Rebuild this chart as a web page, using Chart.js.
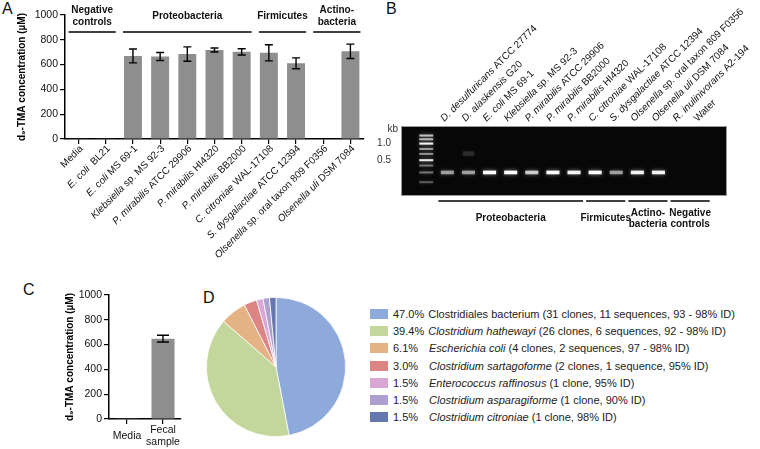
<!DOCTYPE html>
<html><head><meta charset="utf-8">
<script src="https://cdn.jsdelivr.net/npm/chart.js@4.4.1/dist/chart.umd.min.js"></script>
<style>
body{margin:0;background:#fff;width:760px;height:449px;overflow:hidden;position:relative;font-family:"Liberation Sans",Arial,sans-serif;}
.panel{position:absolute;}
.tag{position:absolute;font-size:16px;line-height:16px;color:#111;}
#legD{position:absolute;left:370px;top:306px;font-size:11px;color:#222;}
.row{height:17.2px;line-height:17.2px;white-space:nowrap;}
.sw{display:inline-block;width:18px;height:10px;vertical-align:middle;margin-right:5px;position:relative;top:-1px}
.pct{display:inline-block;}
</style></head><body>
<div class="tag" style="left:2px;top:1px">A</div>
<div class="tag" style="left:386px;top:1px">B</div>
<div class="tag" style="left:23px;top:282px">C</div>
<div class="tag" style="left:203px;top:290px">D</div>
<div class="panel" style="left:0;top:0;width:372px;height:270px"><canvas id="chartA"></canvas></div>
<div class="panel" style="left:360px;top:0;width:400px;height:235px"><canvas id="chartB"></canvas></div>
<div class="panel" style="left:0;top:270px;width:200px;height:179px"><canvas id="chartC"></canvas></div>
<div class="panel" style="left:206px;top:297px;width:140px;height:140px"><canvas id="chartD"></canvas></div>
<div id="legD"></div>
<script>
/* panel A — d9-TMA produced by isolates */
const labelsA = ['Media', '<i>E. coli</i>  BL21', '<i>E. coli</i> MS 69-1', '<i>Klebsiella</i> sp. MS 92-3',
  '<i>P. mirabilis</i> ATCC 29906', '<i>P. mirabilis</i> HI4320', '<i>P. mirabilis</i> BB2000',
  '<i>C. citroniae</i> WAL-17108', '<i>S. dysgalactiae</i> ATCC 12394',
  '<i>Olsenella</i> sp. oral taxon 809 F0356', '<i>Olsenella uli</i> DSM 7084'];
const valuesA = [4, 6, 670, 665, 685, 718, 703, 695, 610, 0, 707];
const errA = [0, 0, 56, 32, 58, 16, 25, 65, 44, 0, 58];
const groupNamesA = [['Negative', 'controls'], ['Proteobacteria'], ['Firmicutes'], ['Actino-', 'bacteria']];
const groupSpanA = [[0, 1], [2, 6], [7, 8], [9, 10]];

/* panel B — PCR gel */
const laneLabels = ['', '<i>D. desulfuricans</i> ATCC 27774', '<i>D. alaskensis</i> G20', '<i>E. coli</i> MS 69-1',
  '<i>Klebsiella</i> sp. MS 92-3', '<i>P. mirabilis</i> ATCC 29906', '<i>P. mirabilis</i> BB2000',
  '<i>P. mirabilis</i> HI4320', '<i>C. citroniae</i> WAL-17108', '<i>S. dysgalactiae</i> ATCC 12394',
  '<i>Olsenella</i> sp. oral taxon 809 F0356', '<i>Olsenella uli</i> DSM 7084', '<i>R. inulinivorans</i> A2-194', 'Water'];
const ladderKb = [1.4, 1.2, 1.0, 0.8, 0.65, 0.5, 0.4, 0.3, 0.2];
const ladderGlow = [0.7, 0.65, 0.95, 0.55, 0.5, 0.9, 0.4, 0.4, 0.3];
const bandKb = [null, 0.3, 0.3, 0.3, 0.3, 0.3, 0.3, 0.3, 0.3, 0.3, 0.3, 0.3, null, null];
const bandGlow = [0, 0.55, 0.55, 1, 1, 0.75, 1, 0.95, 1, 0.55, 0.95, 0.95, 0, 0];
const faintKb = [null, null, 0.66];
const faintGlow = [0, 0, 0.12];
const gelTicks = [1.0, 0.5];
const groupNamesB = [['Proteobacteria'], ['Firmicutes'], ['Actino-', 'bacteria'], ['Negative', 'controls']];
const groupSpanB = [[1, 7], [8, 9], [10, 11], [12, 13]];

/* panel C — fecal sample */
const labelsC = [['Media'], ['Fecal', 'sample']];
const valuesC = [3, 648];
const errC = [0, 27];

/* panel D — clone library */
const piePct = [47.0, 39.4, 6.1, 3.0, 1.5, 1.5, 1.5];
const pieNames = ['Clostridiales bacterium', 'Clostridium hathewayi', 'Escherichia coli', 'Clostridium sartagoforme',
  'Enterococcus raffinosus', 'Clostridium asparagiforme', 'Clostridium citroniae'];
const pieItalic = [false, true, true, true, true, true, true];
const pieDetails = ['(31 clones, 11 sequences, 93 - 98% ID)', '(26 clones, 6 sequences, 92 - 98% ID)',
  '(4 clones, 2 sequences, 97 - 98% ID)', '(2 clones, 1 sequence, 95% ID)', '(1 clone, 95% ID)',
  '(1 clone, 90% ID)', '(1 clone, 98% ID)'];
const pieColors = ['#8eaadb', '#c3d69b', '#e3b383', '#dd8585', '#d9a6d6', '#ada0d0', '#6677b0'];

const FONT = '"Liberation Sans", Arial, "DejaVu Sans", sans-serif';
const BAR = '#8e8e8e';

function drawRich(ctx, str, x, y, size, bold, align) {
  const segs = [];
  let ital = false;
  str.split(/(<i>|<\/i>)/).forEach(p => {
    if (p === '<i>') ital = true; else if (p === '</i>') ital = false; else if (p) segs.push([p, ital]);
  });
  const f = it => `${it ? 'italic ' : ''}${bold ? 'bold ' : ''}${size}px ${FONT}`;
  let w = 0;
  segs.forEach(s => { ctx.font = f(s[1]); w += ctx.measureText(s[0]).width; });
  let cx = align === 'right' ? x - w : align === 'center' ? x - w / 2 : x;
  ctx.textAlign = 'left';
  segs.forEach(s => { ctx.font = f(s[1]); ctx.fillText(s[0], cx, y); cx += ctx.measureText(s[0]).width; });
}

function drawGroups(ctx, x, names, spans, lineY, pad, textY) {
  ctx.save();
  ctx.strokeStyle = '#000'; ctx.lineWidth = 1.6; ctx.fillStyle = '#111';
  ctx.textBaseline = 'middle';
  names.forEach((nm, g) => {
    const a = x.getPixelForValue(spans[g][0]) - pad, b = x.getPixelForValue(spans[g][1]) + pad;
    ctx.beginPath(); ctx.moveTo(a, lineY); ctx.lineTo(b, lineY); ctx.stroke();
    const c = (a + b) / 2;
    nm.forEach((t, k) => drawRich(ctx, t, c, textY(nm.length, k), 10, true, 'center'));
  });
  ctx.restore();
}

function errorBars(chart, vals, errs, cap) {
  const {ctx, scales: {x, y}} = chart;
  ctx.save();
  ctx.strokeStyle = '#000'; ctx.lineWidth = 1.4;
  vals.forEach((v, i) => {
    const e = errs[i]; if (!e) return;
    const px = x.getPixelForValue(i), t = y.getPixelForValue(v + e), b = y.getPixelForValue(v - e);
    ctx.beginPath();
    ctx.moveTo(px, t); ctx.lineTo(px, b);
    ctx.moveTo(px - cap, t); ctx.lineTo(px + cap, t);
    ctx.moveTo(px - cap, b); ctx.lineTo(px + cap, b);
    ctx.stroke();
  });
  ctx.restore();
}

const yTitle = (pad) => ({ display: true, text: 'd₉-TMA concentration (µM)', color: '#000',
  font: { family: FONT, size: 10, weight: 'bold' }, padding: { top: pad, bottom: 0 } });
const axisY = (w, pad) => ({
  min: 0, max: 1000, afterFit: s => { s.width = w; },
  ticks: { stepSize: 200, color: '#111', padding: 2, font: { family: FONT, size: 10.5 }, callback: v => String(v) },
  grid: { drawOnChartArea: false, color: '#000', tickLength: 5, lineWidth: 1.2 },
  border: { color: '#000', width: 1.5 },
  title: yTitle(pad)
});

new Chart(document.getElementById('chartA'), {
  type: 'bar',
  data: { labels: labelsA, datasets: [{ data: valuesA, backgroundColor: BAR, barPercentage: 0.66, categoryPercentage: 1 }] },
  options: {
    responsive: true, maintainAspectRatio: false, animation: false,
    layout: { padding: { left: 0, top: 15, right: 8, bottom: 0 } },
    plugins: { legend: { display: false }, tooltip: { enabled: false } },
    scales: {
      x: { afterFit: s => { s.height = 131; }, ticks: { display: false },
        grid: { offset: false, drawOnChartArea: false, color: '#000', tickLength: 5, lineWidth: 1.2 },
        border: { color: '#000', width: 1.5 } },
      y: axisY(65, 16)
    }
  },
  plugins: [{
    id: 'annA',
    afterDraw(chart) {
      const {ctx, scales: {x, y}} = chart;
      errorBars(chart, valuesA, errA, 4);
      ctx.save();
      ctx.fillStyle = '#111'; ctx.textBaseline = 'middle';
      labelsA.forEach((t, i) => {
        ctx.save();
        ctx.translate(x.getPixelForValue(i) + 3, y.bottom + 8);
        ctx.rotate(-Math.PI / 4);
        drawRich(ctx, t, 0, 0, 10, false, 'right');
        ctx.restore();
      });
      ctx.restore();
      const lineY = y.top + 17;
      drawGroups(ctx, x, groupNamesA, groupSpanA, lineY, 10,
        (n, k) => n === 1 ? lineY - 16 : lineY - 22 + k * 12);
    }
  }]
});

/* gel as floating bars on a log kb axis */
const band = (kb, h) => [kb / h, kb * h];
new Chart(document.getElementById('chartB'), {
  type: 'bar',
  data: {
    datasets: [
      { data: ladderKb.map(k => ({ x: 0, y: band(k, 1.045) })), glow: ladderGlow, barPercentage: 0.66, categoryPercentage: 1 },
      { data: bandKb.map((k, i) => k ? { x: i, y: band(k, 1.08) } : null).filter(Boolean),
        glow: bandGlow.filter((g, i) => bandKb[i]), barPercentage: 0.62, categoryPercentage: 1 },
      { data: faintKb.map((k, i) => k ? { x: i, y: band(k, 1.1) } : null).filter(Boolean),
        glow: faintGlow.filter((g, i) => faintKb[i]), barPercentage: 0.55, categoryPercentage: 1 }
    ].map(d => Object.assign(d, {
      grouped: false,
      backgroundColor: c => `rgba(255,255,255,${c.dataset.glow[c.dataIndex]})`
    }))
  },
  options: {
    responsive: true, maintainAspectRatio: false, animation: false,
    layout: { padding: { left: 0, top: 127, right: 34, bottom: 0 } },
    plugins: { legend: { display: false }, tooltip: { enabled: false } },
    scales: {
      x: { type: 'linear', min: -0.6, max: 13.65, afterFit: s => { s.height = 40; },
        ticks: { display: false, stepSize: 1 }, grid: { display: false }, border: { display: false } },
      y: { type: 'logarithmic', min: 0.117, max: 2.0, afterFit: s => { s.width = 42; },
        afterBuildTicks: s => { s.ticks = gelTicks.map(v => ({ value: v })); },
        ticks: { color: '#333', padding: 3, font: { family: FONT, size: 10 }, callback: v => Number(v).toFixed(1) },
        grid: { display: false }, border: { display: false } }
    }
  },
  plugins: [{
    id: 'gel',
    beforeDatasetsDraw(chart) {
      const {ctx, chartArea: a} = chart;
      ctx.save();
      ctx.fillStyle = '#070707';
      ctx.fillRect(a.left, a.top, a.width, a.height);
      ctx.strokeStyle = '#9a9a9a'; ctx.lineWidth = 1;
      ctx.strokeRect(a.left - 0.5, a.top - 0.5, a.width + 1, a.height + 1);
      ctx.shadowColor = 'rgba(255,255,255,0.5)';
      ctx.shadowBlur = 4;
    },
    afterDatasetsDraw(chart) {
      const {ctx, chartArea: a, scales: {x}} = chart;
      ctx.restore();
      ctx.save();
      ctx.fillStyle = '#333'; ctx.textBaseline = 'middle';
      ctx.font = `10px ${FONT}`; ctx.textAlign = 'right';
      ctx.fillText('kb', a.left - 4, a.top + 2);
      ctx.fillStyle = '#111'; ctx.textBaseline = 'alphabetic';
      laneLabels.forEach((t, i) => {
        if (!t) return;
        ctx.save();
        ctx.translate(x.getPixelForValue(i) - 3, a.top - 5);
        ctx.rotate(-Math.PI / 4);
        drawRich(ctx, t, 0, 0, 10, false, 'left');
        ctx.restore();
      });
      ctx.restore();
      const lineY = a.bottom + 6;
      drawGroups(ctx, x, groupNamesB, groupSpanB, lineY, 9,
        (n, k) => n === 1 ? lineY + 17 : lineY + 12 + k * 11.5);
    }
  }]
});

new Chart(document.getElementById('chartC'), {
  type: 'bar',
  data: { labels: labelsC, datasets: [{ data: valuesC, backgroundColor: BAR, barPercentage: 0.64, categoryPercentage: 1 }] },
  options: {
    responsive: true, maintainAspectRatio: false, animation: false,
    layout: { padding: { left: 0, top: 25, right: 19, bottom: 0 } },
    plugins: { legend: { display: false }, tooltip: { enabled: false } },
    scales: {
      x: { afterFit: s => { s.height = 30; },
        ticks: { color: '#111', padding: 6, crossAlign: 'center', autoSkip: false, maxRotation: 0, minRotation: 0,
          font: { family: FONT, size: 10.5 } },
        grid: { offset: false, drawOnChartArea: false, color: '#000', tickLength: 5, lineWidth: 1.2 },
        border: { color: '#000', width: 1.5 } },
      y: axisY(109, 64)
    }
  },
  plugins: [{ id: 'errC', afterDraw: c => errorBars(c, valuesC, errC, 6) }]
});

new Chart(document.getElementById('chartD'), {
  type: 'pie',
  data: { labels: pieNames, datasets: [{ data: piePct, backgroundColor: pieColors, borderColor: '#fff', borderWidth: 0.8 }] },
  options: {
    responsive: true, maintainAspectRatio: false, animation: false,
    plugins: { legend: { display: false }, tooltip: { enabled: false } }
  }
});

const leg = document.getElementById('legD');
pieNames.forEach((n, i) => {
  const row = document.createElement('div');
  row.className = 'row';
  const name = pieItalic[i] ? `<i>${n}</i>` : n;
  const pctStyle = piePct[i] >= 10 ? 'margin-right:4px' : 'width:36px';
  row.innerHTML = `<span class="sw" style="background:${pieColors[i]}"></span>` +
    `<span class="pct" style="${pctStyle}">${piePct[i].toFixed(1)}%</span>${name} ${pieDetails[i]}`;
  leg.appendChild(row);
});
</script>
</body></html>
